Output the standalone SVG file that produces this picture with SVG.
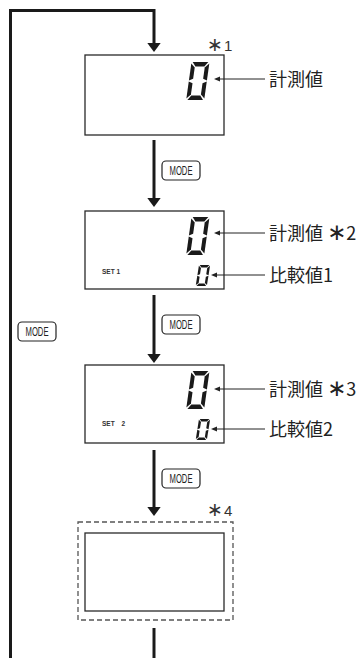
<svg xmlns="http://www.w3.org/2000/svg" xmlns:xlink="http://www.w3.org/1999/xlink" width="360" height="658" viewBox="0 0 360 658">
<style>
.flow{fill:none;stroke:#1a1a1a;stroke-width:3}
.head{fill:#1a1a1a}
.box{fill:#fff;stroke:#2a2a2a;stroke-width:1.3}
.dash{fill:none;stroke:#555;stroke-width:1.3;stroke-dasharray:5 3}
.ptr{fill:none;stroke:#222;stroke-width:1}
.ptrhead{fill:#222}
.lbl{font-family:"Noto Sans CJK JP","Noto Sans",sans-serif;font-size:18px;fill:#222}
.note{font-family:"Liberation Sans","Noto Sans CJK JP",sans-serif;font-size:15px;fill:#333}
.ast{font-family:"DejaVu Sans",sans-serif;font-size:23px}
.asts{font-family:"DejaVu Sans",sans-serif;font-size:19px}
.set{font-family:"Liberation Sans",Arial,sans-serif;font-size:6.5px;font-weight:bold;fill:#333}
.btn{fill:#fff;stroke:#222;stroke-width:1.2}
.btnt{font-family:"Liberation Sans",Arial,sans-serif;font-size:12.5px;fill:#222}
.seg{fill:#1a1a1a}
</style>
<defs>
<g id="d0" transform="skewX(-8)">
<polygon class="seg" points="1.2,0 16.8,0 13.5,4.5 4.5,4.5"/>
<polygon class="seg" points="0,1.5 4,5.5 4,16.8 0,18.5"/>
<polygon class="seg" points="0,19.5 4,21.2 4,32.5 0,36.5"/>
<polygon class="seg" points="4.5,33.5 13.5,33.5 16.8,38 1.2,38"/>
<polygon class="seg" points="18,1.5 14,5.5 14,16.8 18,18.5"/>
<polygon class="seg" points="18,19.5 14,21.2 14,32.5 18,36.5"/>
</g>
</defs>

<g id="connectors">
<path class="flow" d="M10.5,658 V10.5 H154 V44"/>
<polygon class="head" points="147.3,43 160.7,43 154,52"/>
<path class="flow" d="M154,140 V199"/>
<polygon class="head" points="147.3,198 160.7,198 154,207"/>
<path class="flow" d="M154,295 V355"/>
<polygon class="head" points="147.3,354 160.7,354 154,363"/>
<path class="flow" d="M154,450 V508"/>
<polygon class="head" points="147.3,507 160.7,507 154,516"/>
<path class="flow" d="M154,628 V658"/>
</g>

<g id="mode-left">
<rect class="btn" x="18" y="322" width="38" height="19" rx="4"/>
<text class="btnt" x="37" y="336" text-anchor="middle" textLength="23" lengthAdjust="spacingAndGlyphs">MODE</text>
</g>
<g id="mode-1">
<rect class="btn" x="162" y="161" width="38" height="19" rx="4"/>
<text class="btnt" x="181" y="175" text-anchor="middle" textLength="23" lengthAdjust="spacingAndGlyphs">MODE</text>
</g>
<g id="mode-2">
<rect class="btn" x="162" y="315" width="38" height="19" rx="4"/>
<text class="btnt" x="181" y="329" text-anchor="middle" textLength="23" lengthAdjust="spacingAndGlyphs">MODE</text>
</g>
<g id="mode-3">
<rect class="btn" x="162" y="469" width="38" height="19" rx="4"/>
<text class="btnt" x="181" y="483" text-anchor="middle" textLength="23" lengthAdjust="spacingAndGlyphs">MODE</text>
</g>

<g id="display-1">
<text class="note" x="207" y="51"><tspan class="asts">∗</tspan><tspan dx="1">1</tspan></text>
<rect class="box" x="85" y="55" width="139" height="80"/>
<use xlink:href="#d0" href="#d0" transform="translate(191.5,62)"/>
<line class="ptr" x1="218" y1="79" x2="265" y2="79"/>
<polygon class="ptrhead" points="214,79 220,76.6 220,81.4"/>
<text class="lbl" x="269" y="86">計測値</text>
</g>

<g id="display-2">
<rect class="box" x="85" y="211" width="139" height="78"/>
<use xlink:href="#d0" href="#d0" transform="translate(191.5,217)"/>
<use xlink:href="#d0" href="#d0" transform="translate(199,265) scale(0.62,0.55)"/>
<text class="set" x="102" y="274">SET 1</text>
<line class="ptr" x1="218" y1="233" x2="265" y2="233"/>
<polygon class="ptrhead" points="214,233 220,230.6 220,235.4"/>
<text class="lbl" x="269" y="240">計測値 <tspan class="ast">∗</tspan>2</text>
<line class="ptr" x1="215" y1="275" x2="265" y2="275"/>
<polygon class="ptrhead" points="211,275 217,272.6 217,277.4"/>
<text class="lbl" x="269" y="282">比較値1</text>
</g>

<g id="display-3">
<rect class="box" x="85" y="365" width="139" height="78"/>
<use xlink:href="#d0" href="#d0" transform="translate(191.5,371)"/>
<use xlink:href="#d0" href="#d0" transform="translate(199,419) scale(0.62,0.55)"/>
<text class="set" x="102" y="426">SET <tspan dx="5">2</tspan></text>
<line class="ptr" x1="218" y1="389" x2="265" y2="389"/>
<polygon class="ptrhead" points="214,389 220,386.6 220,391.4"/>
<text class="lbl" x="269" y="396">計測値 <tspan class="ast">∗</tspan>3</text>
<line class="ptr" x1="215" y1="429" x2="265" y2="429"/>
<polygon class="ptrhead" points="211,429 217,426.6 217,431.4"/>
<text class="lbl" x="269" y="436">比較値2</text>
</g>

<g id="display-4">
<text class="note" x="207" y="516"><tspan class="asts">∗</tspan><tspan dx="1">4</tspan></text>
<rect class="dash" x="78" y="522" width="155" height="98"/>
<rect class="box" x="85" y="533" width="139" height="78"/>
</g>
</svg>
